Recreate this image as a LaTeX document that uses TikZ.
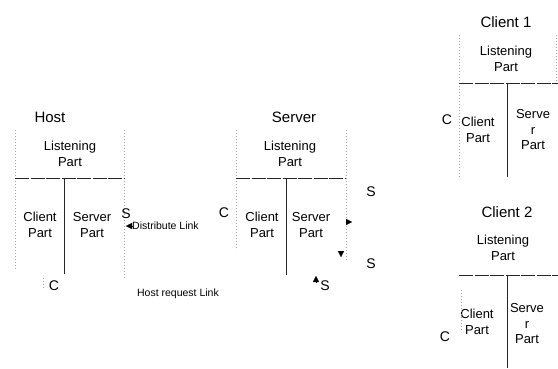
\documentclass[tikz,border=0pt]{standalone}
\usepackage{fontspec}
\setmainfont{Liberation Sans}
\usetikzlibrary{arrows.meta,positioning}

\begin{document}
\begin{tikzpicture}[x=1pt,y=-1pt,
  boxtitle/.style  = {font=\fontsize{15}{17}\selectfont, inner sep=0pt},
  partlbl/.style   = {align=center, font=\fontsize{13}{15.5}\selectfont, inner sep=0pt},
  portlbl/.style   = {font=\fontsize{14}{16}\selectfont, inner sep=0pt},
  linklbl/.style   = {font=\fontsize{10.5}{12}\selectfont, inner sep=0pt},
  rimline/.style   = {draw=gray!70, line width=0.5pt, dash pattern=on 1pt off 2pt},
  splitline/.style = {draw=black!85, line width=0.8pt, dash pattern=on 14pt off 1.5pt},
  wallline/.style  = {draw=black!85, line width=0.8pt},
  headonly/.style  = {-{Triangle[length=6pt,width=6pt]}, line width=0.2pt},
]
\useasboundingbox (0,0) rectangle (558,368);

% ── Host ─────────────────────────────────────────────────────
\node[boxtitle] (hT)  at (50,117)  {Host};
\node[partlbl]  (hL)  at (70,154)  {Listening\\Part};
\node[partlbl]  (hC)  at (40,225)  {Client\\Part};
\node[partlbl]  (hS)  at (92,225)  {Server\\Part};
\draw[rimline]   (15,130) -- (15,270);
\draw[rimline]   (124,130) -- (124,280);
\draw[splitline] (15,178) -- (124,178);
\draw[wallline]  (64,178) -- (64,274);
\draw[rimline]   (43,278) -- (43,290);
\node[portlbl]  (hPS) at (126,214) {S};
\node[portlbl]  (hPC) at (54,286)  {C};

% ── Server ───────────────────────────────────────────────────
\node[boxtitle] (sT)  at (294,117) {Server};
\node[partlbl]  (sL)  at (290,154) {Listening\\Part};
\node[partlbl]  (sC)  at (262,225) {Client\\Part};
\node[partlbl]  (sS)  at (311,225) {Server\\Part};
\draw[rimline]   (236,130) -- (236,250);
\draw[rimline]   (346,130) -- (346,260);
\draw[splitline] (236,178) -- (346,178);
\draw[wallline]  (286,178) -- (286,275);
\node[portlbl]  (sPC)  at (224,213) {C};
\node[portlbl]  (sPS1) at (371,192) {S};
\node[portlbl]  (sPS2) at (371,264) {S};
\node[portlbl]  (sPS3) at (325,286) {S};

% ── Links ────────────────────────────────────────────────────
\node[linklbl,anchor=west] (dist) at (132,226) {Distribute Link};
\node[linklbl] (hreq) at (178,294) {Host request Link};
\coordinate (dEnd) at (126,226);
\draw[headonly] (dist.west) -- (dEnd);
\coordinate (rA) at (346,222);
\coordinate (rB) at (352,222);
\draw[headonly] (rA) -- (rB);
\coordinate (dA) at (341,251);
\coordinate (dB) at (341,257);
\draw[headonly] (dA) -- (dB);
\coordinate (uA) at (316,282);
\coordinate (uB) at (316,276);
\draw[headonly] (uA) -- (uB);

% ── Client 1 ─────────────────────────────────────────────────
\node[boxtitle] (c1T) at (506,22)  {Client 1};
\node[partlbl]  (c1L) at (506,59)  {Listening\\Part};
\node[partlbl]  (c1C) at (478,130) {Client\\Part};
\node[partlbl]  (c1S) at (533,130) {Serve\\r\\Part};
\draw[rimline]   (459,35) -- (459,177);
\draw[rimline]   (556,35) -- (556,82);
\draw[splitline] (459,83) -- (558,83);
\draw[wallline]  (507,83) -- (507,177);
\node[portlbl]  (c1P) at (447,120) {C};

% ── Client 2 ─────────────────────────────────────────────────
\node[boxtitle] (c2T) at (507,212) {Client 2};
\node[partlbl]  (c2L) at (503,248) {Listening\\Part};
\node[partlbl]  (c2C) at (477,322) {Client\\Part};
\node[partlbl]  (c2S) at (527,324) {Serve\\r\\Part};
\draw[rimline]   (461,290) -- (461,330);
\draw[splitline] (459,275) -- (558,275);
\draw[wallline]  (507,275) -- (507,368);
\node[portlbl]  (c2P) at (445,337) {C};

\end{tikzpicture}
\end{document}
